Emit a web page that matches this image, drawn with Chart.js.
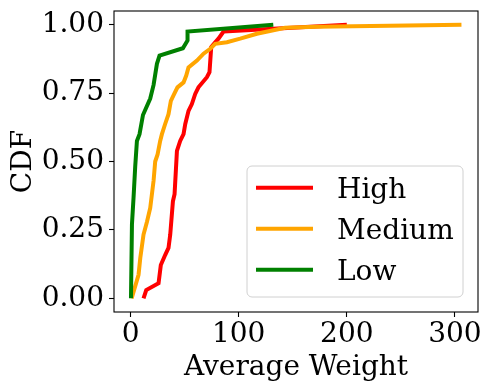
<!DOCTYPE html>
<html>
<head>
<meta charset="utf-8">
<script src="https://cdn.jsdelivr.net/npm/chart.js@4/dist/chart.umd.min.js"></script>
<style>
  html, body { margin: 0; padding: 0; background: #fff; }
  #wrap { width: 491px; height: 390px; }
</style>
</head>
<body>
<div id="wrap"><canvas id="cdfChart" width="491" height="390"></canvas></div>
<script>
// CDF data
const labels = ["High", "Medium", "Low"];
const colors = ["#ff0000", "#ffa500", "#008000"];

const highX = [12, 14.5, 25.9, 28, 32.1, 35.1, 36.7, 39.2, 40.7, 42.9, 45.9, 49, 50.6, 53.6, 56.7, 59.8, 62.8, 70.6, 73, 74.6, 78.3, 81.3, 86, 200];
const highY = [0, 0.03, 0.055, 0.122, 0.159, 0.184, 0.233, 0.355, 0.38, 0.539, 0.575, 0.6, 0.637, 0.685, 0.71, 0.747, 0.771, 0.808, 0.826, 0.918, 0.936, 0.949, 0.975, 1.0];

const mediumX = [1, 7.4, 9, 12, 15.2, 18.2, 21.3, 22.8, 25, 27.4, 29, 32, 35.1, 37.3, 40.4, 43.4, 49, 51.5, 53.6, 61.4, 67.5, 73.7, 78.3, 89.1, 101.4, 116.8, 143, 172, 306];
const mediumY = [0, 0.086, 0.147, 0.233, 0.28, 0.33, 0.43, 0.5, 0.526, 0.575, 0.6, 0.637, 0.673, 0.722, 0.747, 0.771, 0.789, 0.814, 0.844, 0.869, 0.894, 0.912, 0.93, 0.936, 0.949, 0.967, 0.989, 0.992, 1.0];

const lowX = [0.4, 1.3, 2.8, 4.3, 5.9, 8.3, 11.5, 18.2, 21.3, 24.4, 26.8, 48.4, 52.7, 52.7, 132];
const lowY = [0, 0.27, 0.37, 0.48, 0.575, 0.6, 0.67, 0.73, 0.78, 0.857, 0.887, 0.914, 0.942, 0.975, 1.0];

const xTicks = [0, 100, 200, 300];
const yTicks = [0, 0.25, 0.5, 0.75, 1.0];

const FONT = "'DejaVu Serif', serif";

function toPoints(xs, ys) {
    return xs.map((x, i) => ({ x: x, y: ys[i] }));
}

// Box around the plot (all four spines)
const frame = {
    id: "frame",
    afterDatasetsDraw(chart) {
        const a = chart.chartArea;
        const ctx = chart.ctx;
        ctx.save();
        ctx.strokeStyle = "#000";
        ctx.lineWidth = 1.1;
        ctx.strokeRect(a.left, a.top, a.right - a.left, a.bottom - a.top);
        ctx.restore();
    }
};

// Legend inside the plot, lower right
const boxLegend = {
    id: "boxLegend",
    afterDraw(chart) {
        const a = chart.chartArea;
        const ctx = chart.ctx;
        const w = 216, h = 131;
        const left = a.right - 15 - w;
        const top = a.bottom - 15 - h;
        ctx.save();
        ctx.beginPath();
        ctx.roundRect(left, top, w, h, 5);
        ctx.fillStyle = "rgba(255,255,255,0.8)";
        ctx.fill();
        ctx.strokeStyle = "#d0d0d0";
        ctx.lineWidth = 1;
        ctx.stroke();

        ctx.font = "28px " + FONT;
        ctx.textBaseline = "alphabetic";
        labels.forEach((lab, i) => {
            const y = top + 21.7 + i * 41;
            ctx.beginPath();
            ctx.moveTo(left + 9, y);
            ctx.lineTo(left + 66, y);
            ctx.strokeStyle = colors[i];
            ctx.lineWidth = 4;
            ctx.stroke();
            ctx.fillStyle = "#000";
            ctx.fillText(lab, left + 90, y + 10.3);
        });
        ctx.restore();
    }
};

const ctx = document.getElementById("cdfChart").getContext("2d");
new Chart(ctx, {
    type: "line",
    data: {
        datasets: [
            { label: labels[0], data: toPoints(highX, highY), borderColor: colors[0], order: 3 },
            { label: labels[1], data: toPoints(mediumX, mediumY), borderColor: colors[1], order: 2 },
            { label: labels[2], data: toPoints(lowX, lowY), borderColor: colors[2], order: 1 }
        ]
    },
    options: {
        responsive: false,
        animation: false,
        events: [],
        datasets: {
            line: { borderWidth: 4, pointRadius: 0, tension: 0, fill: false, borderJoinStyle: "miter", borderCapStyle: "butt" }
        },
        layout: { padding: { top: 11, right: 13, left: 0, bottom: 0 } },
        plugins: {
            legend: { display: false },
            tooltip: { enabled: false }
        },
        scales: {
            x: {
                type: "linear",
                min: -15.3,
                max: 321.3,
                afterBuildTicks: axis => { axis.ticks = xTicks.map(v => ({ value: v })); },
                afterFit: axis => { axis.height = 78; axis.paddingLeft = 0; axis.paddingRight = 0; },
                border: { display: false },
                grid: { drawOnChartArea: false, drawTicks: true, tickLength: 5, color: "#000", tickWidth: 1.1 },
                ticks: { color: "#000", font: { family: FONT, size: 28 }, padding: 1, maxRotation: 0, callback: v => String(v) },
                title: { display: true, text: "Average Weight", color: "#000", font: { family: FONT, size: 28 }, padding: { top: 0, bottom: 5 } }
            },
            y: {
                type: "linear",
                min: -0.05,
                max: 1.05,
                afterBuildTicks: axis => { axis.ticks = yTicks.map(v => ({ value: v })); },
                afterFit: axis => { axis.width = 114; axis.paddingTop = 0; axis.paddingBottom = 0; },
                border: { display: false },
                grid: { drawOnChartArea: false, drawTicks: true, tickLength: 5, color: "#000", tickWidth: 1.1 },
                ticks: { color: "#000", font: { family: FONT, size: 28 }, padding: 5, callback: v => v.toFixed(2) },
                title: { display: true, text: "CDF", color: "#000", font: { family: FONT, size: 28 }, padding: { top: 7, bottom: 0 } }
            }
        }
    },
    plugins: [frame, boxLegend]
});
</script>
</body>
</html>
